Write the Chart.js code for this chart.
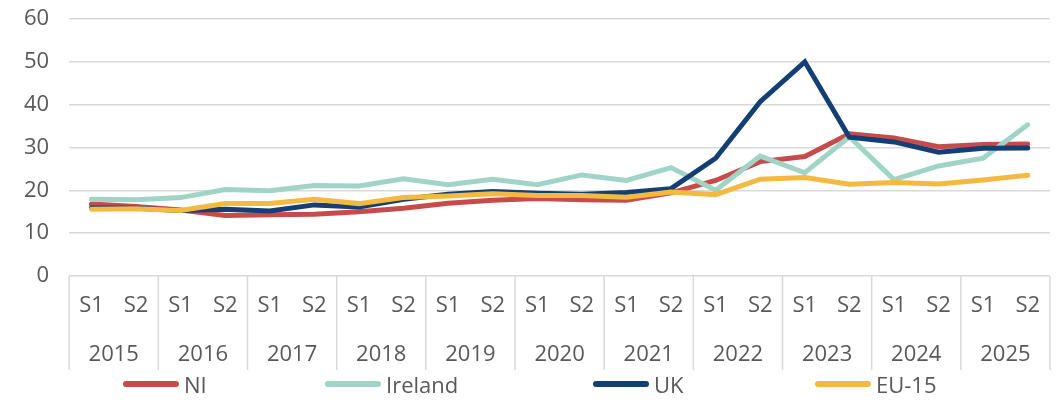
<!DOCTYPE html>
<html>
<head>
<meta charset="utf-8">
<script src="https://cdn.jsdelivr.net/npm/chart.js@4/dist/chart.umd.min.js"></script>
<style>
  body { margin: 0; background: #fff; overflow: hidden; }
  #wrap { position: relative; width: 1059px; height: 409px; }
  #legend { position: absolute; left: 0; top: 369px; width: 1059px; height: 30px;
            font-family: "Open Sans", sans-serif; font-size: 22px; color: #595959; }
  .item { position: absolute; top: 0; height: 30px; display: flex; align-items: center; }
  .item i { display: inline-block; width: 56px; height: 6px; border-radius: 3px; margin-right: 5px; }
</style>
</head>
<body>
<div id="wrap">
  <canvas id="chart" width="1059" height="409"></canvas>
  <div id="legend"></div>
</div>
<script>
const years = ['2015', '2016', '2017', '2018', '2019', '2020', '2021', '2022', '2023', '2024', '2025'];
const halves = ['S1', 'S2'];
const labels = years.flatMap(() => halves);

const ni      = [16.8, 16.2, 15.4, 14.1, 14.3, 14.4, 15.0, 15.8, 17.0, 17.7, 18.1, 17.8, 17.7, 19.4, 22.3, 26.7, 27.9, 33.2, 32.2, 30.2, 30.7, 30.8];
const ireland = [17.9, 17.8, 18.3, 20.2, 19.9, 21.1, 21.0, 22.7, 21.3, 22.6, 21.3, 23.6, 22.3, 25.3, 20.0, 28.0, 24.1, 32.5, 22.5, 25.7, 27.5, 35.3];
const uk      = [15.9, 15.8, 15.3, 15.6, 15.2, 16.6, 16.1, 17.9, 19.1, 19.7, 19.3, 19.1, 19.5, 20.4, 27.5, 40.7, 50.0, 32.4, 31.3, 28.9, 29.8, 29.9];
const eu15    = [15.6, 15.7, 15.3, 16.9, 16.9, 17.9, 16.9, 18.3, 18.7, 19.2, 18.8, 18.8, 18.4, 19.6, 19.0, 22.6, 23.0, 21.4, 21.8, 21.5, 22.4, 23.5];

const seriesNames = ['NI', 'Ireland', 'UK', 'EU-15'];
const seriesColors = ['#c84b4c', '#9fd4c6', '#133f74', '#f4b941'];
const legendLeft = [123, 325, 593, 815];

const textColor = '#595959';
const gridColor = '#d9d9d9';
const fontFamily = '"Open Sans", sans-serif';

// year labels and group separators under the S1/S2 ticks
const yearGroups = {
  id: 'yearGroups',
  afterDraw(chart) {
    const x = chart.scales.x;
    const ctx = chart.ctx;
    const top = chart.chartArea.bottom;
    const half = (x.getPixelForValue(1) - x.getPixelForValue(0)) / 2;
    ctx.save();
    ctx.strokeStyle = gridColor;
    ctx.lineWidth = 1.5;
    for (let g = 0; g <= years.length; g++) {
      const px = g < years.length ? x.getPixelForValue(g * 2) - half : x.getPixelForValue(g * 2 - 1) + half;
      ctx.beginPath();
      ctx.moveTo(px, top);
      ctx.lineTo(px, top + 94);
      ctx.stroke();
    }
    ctx.fillStyle = textColor;
    ctx.font = '22px ' + fontFamily;
    ctx.textAlign = 'center';
    ctx.textBaseline = 'middle';
    years.forEach((y, g) => {
      const cx = (x.getPixelForValue(g * 2) + x.getPixelForValue(g * 2 + 1)) / 2;
      ctx.fillText(y, cx, top + 79);
    });
    ctx.restore();
  }
};

const allSeries = [ni, ireland, uk, eu15];

new Chart(document.getElementById('chart'), {
  type: 'line',
  data: {
    labels: labels,
    datasets: allSeries.map((d, i) => ({
      label: seriesNames[i],
      data: d,
      borderColor: seriesColors[i],
      backgroundColor: seriesColors[i],
      borderWidth: 5,
      pointRadius: 0,
      tension: 0,
      borderCapStyle: 'round',
      borderJoinStyle: 'miter',
      order: 4 - i
    }))
  },
  options: {
    responsive: false,
    animation: false,
    layout: { padding: { left: 4, right: 9, top: 0, bottom: 38 } },
    plugins: {
      legend: { display: false },
      tooltip: { enabled: false }
    },
    scales: {
      x: {
        offset: true,
        grid: { display: true, drawOnChartArea: false, drawTicks: false, color: 'rgba(0,0,0,0)' },
        border: { display: false },
        ticks: {
          autoSkip: false, maxRotation: 0, padding: 17,
          color: textColor, font: { family: fontFamily, size: 22 }
        },
        afterFit(scale) { scale.height = 95; }
      },
      y: {
        min: 0, max: 60,
        ticks: { stepSize: 10, padding: 20, color: textColor, font: { family: fontFamily, size: 22 } },
        grid: { color: gridColor, lineWidth: 1.5, drawTicks: false },
        border: { display: false },
        afterFit(scale) { scale.paddingTop = 19; }
      }
    }
  },
  plugins: [yearGroups]
});

const legend = document.getElementById('legend');
seriesNames.forEach((name, i) => {
  const item = document.createElement('div');
  item.className = 'item';
  item.style.left = legendLeft[i] + 'px';
  const mark = document.createElement('i');
  mark.style.background = seriesColors[i];
  item.appendChild(mark);
  item.appendChild(document.createTextNode(name));
  legend.appendChild(item);
});
</script>
</body>
</html>
